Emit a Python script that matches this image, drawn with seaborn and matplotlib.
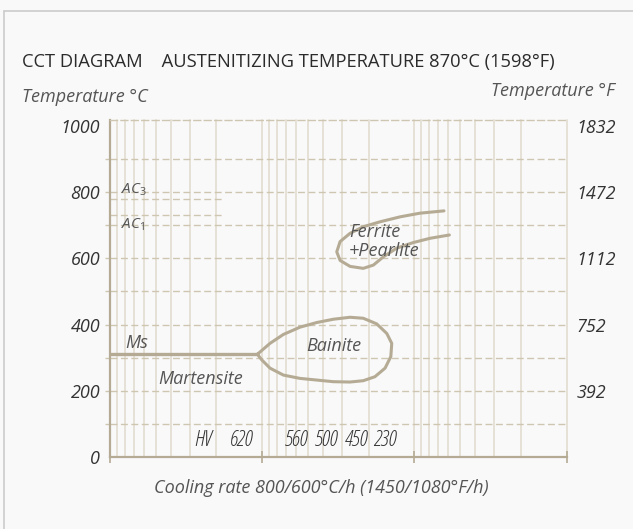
import numpy as np
import seaborn as sns
import matplotlib.pyplot as plt
from matplotlib.lines import Line2D
from matplotlib.ticker import FixedLocator, NullFormatter, LogLocator

# cooling rate (deg C/h, log axis, fast on the left) and temperature (deg C)
bainite_rate = [1076, 889, 726, 565, 439, 341, 265, 217, 177, 152, 141, 143, 156,
                182, 217, 265, 341, 439, 565, 726, 889, 1007, 1076]
bainite_temp = [310, 343, 370, 392, 406, 416, 422, 419, 402, 373, 343, 303, 268,
                242, 230, 226, 227, 232, 237, 247, 268, 293, 310]

fp_rate = [64, 92, 124, 168, 217, 265, 308, 324, 308, 265, 217, 186, 160, 131, 102, 79, 59]
fp_temp = [744, 737, 726, 711, 696, 676, 651, 620, 594, 576, 570, 580, 605, 631, 648, 661, 671]

ms_rate = [10000, 1076]
ms_temp = [310, 310]

ac_rate = [10000, 1830]
ac3_temp = [781, 781]
ac1_temp = [731, 731]

hv_rate = [2438, 1364, 593, 377, 242, 156]
hv_label = ["HV", "620", "560", "500", "450", "230"]

c_ticks = [0, 200, 400, 600, 800, 1000]
f_ticks = [392, 752, 1112, 1472, 1832]

curve = "#b5ab95"
grid_v = "#e4dfd3"
grid_h = "#cfc6b2"
txt = "#333333"
txt2 = "#555555"

sns.set_theme(style="white")
plt.rcParams["font.family"] = ["Open Sans", "DejaVu Sans"]
plt.rcParams["mathtext.fontset"] = "custom"
plt.rcParams["mathtext.rm"] = "Open Sans"
plt.rcParams["mathtext.it"] = "Open Sans:italic"

fig = plt.figure(figsize=(6.33, 5.29), dpi=100, facecolor="#f9f9f9")
W, H = 633, 529
ax = fig.add_axes([110 / W, 1 - 456.7 / H, (566.7 - 110) / W, (456.7 - 120) / H])
ax.set_facecolor("#f9f9f9")

ax.set_xscale("log")
ax.set_xlim(1e4, 1e1)
ax.set_ylim(0, 1019)

# grid
ax.xaxis.set_minor_locator(LogLocator(base=10, subs=np.arange(2, 10)))
ax.xaxis.set_minor_formatter(NullFormatter())
ax.xaxis.set_major_formatter(NullFormatter())
ax.grid(which="both", axis="x", color=grid_v, lw=1.3, clip_on=False)
ax.yaxis.set_major_locator(FixedLocator(c_ticks))
ax.yaxis.set_minor_locator(FixedLocator(range(100, 1000, 100)))
ax.yaxis.remove_overlapping_locs = False
ax.grid(which="minor", axis="y", color=grid_h, lw=1, linestyle=(0, (5, 2.5)))
ax.grid(which="major", axis="y", visible=False)
ax.set_axisbelow(True)

ax.tick_params(axis="x", which="major", direction="inout", length=9, width=1.2,
               color=curve, bottom=True)
ax.tick_params(axis="x", which="minor", length=0)
ax.tick_params(axis="y", which="major", length=0, pad=7, labelsize=13, labelcolor=txt)
ax.tick_params(axis="y", which="minor", left=True, length=3.6, width=1, color=grid_h)
for lab in ax.get_yticklabels():
    lab.set_fontstyle("italic")

for s in ["left", "bottom"]:
    ax.spines[s].set_color(curve)
    ax.spines[s].set_linewidth(1.6)
ax.spines["right"].set_visible(False)
ax.spines["top"].set_color(grid_h)
ax.spines["top"].set_linewidth(1)
ax.spines["top"].set_linestyle((0, (5, 2.5)))

# right axis in Fahrenheit
sec = ax.secondary_yaxis("right", functions=(lambda c: c * 1.8 + 32, lambda f: (f - 32) / 1.8))
sec.set_yticks(f_ticks)
sec.tick_params(length=0, pad=7, labelsize=13, labelcolor=txt)
sec.spines["right"].set_visible(False)
for lab in sec.get_yticklabels():
    lab.set_fontstyle("italic")

# curves
sns.lineplot(x=bainite_rate, y=bainite_temp, sort=False, estimator=None, ax=ax,
             color=curve, lw=2.2)
sns.lineplot(x=fp_rate, y=fp_temp, sort=False, estimator=None, ax=ax, color=curve, lw=2.2)
sns.lineplot(x=ms_rate, y=ms_temp, sort=False, estimator=None, ax=ax, color=curve, lw=2.4)
sns.lineplot(x=ac_rate, y=ac3_temp, sort=False, estimator=None, ax=ax, color=grid_h,
             lw=1, linestyle=(0, (5, 2.5)))
sns.lineplot(x=ac_rate, y=ac1_temp, sort=False, estimator=None, ax=ax, color=grid_h,
             lw=1, linestyle=(0, (5, 2.5)))

# labels
it = dict(fontstyle="italic", color=txt2, fontsize=13)
ax.text(8510, 809, r"$AC_3$", ha="left", va="center", fontsize=11, color=txt2)
ax.text(8510, 703, r"$AC_1$", ha="left", va="center", fontsize=11, color=txt2)
ax.text(7968, 343, "Ms", ha="left", va="center", **it)
ax.text(2523, 234, "Martensite", ha="center", va="center", **it)
ax.text(341, 335, "Bainite", ha="center", va="center", **it)
ax.text(269, 679, "Ferrite", ha="left", va="center", **it)
ax.text(269, 622, "+Pearlite", ha="left", va="center", **it)
for r, l in zip(hv_rate, hv_label):
    ax.text(r, 50, l, ha="center", va="center", fontsize=15.5, fontstyle="italic",
            fontstretch="condensed", color=txt)

fig.text(22 / W, 1 - 62 / H, "CCT DIAGRAM    AUSTENITIZING TEMPERATURE 870°C (1598°F)",
         ha="left", va="center", fontsize=13.2, color="#2b2b2b")
fig.text(22 / W, 1 - 97 / H, "Temperature °C", ha="left", va="center", **it)
fig.text(615 / W, 1 - 91 / H, "Temperature °F", ha="right", va="center", **it)
fig.text(321 / W, 1 - 488 / H, "Cooling rate 800/600°C/h (1450/1080°F/h)",
         ha="center", va="center", **it)

# frame
fig.add_artist(Line2D([3.5 / W, 3.5 / W], [0, 1 - 10.5 / H], color="#cccccc", lw=1.2))
fig.add_artist(Line2D([3.5 / W, 1], [1 - 10.5 / H, 1 - 10.5 / H], color="#cccccc", lw=1.2))

fig.savefig("out.png", dpi=100, facecolor=fig.get_facecolor())
